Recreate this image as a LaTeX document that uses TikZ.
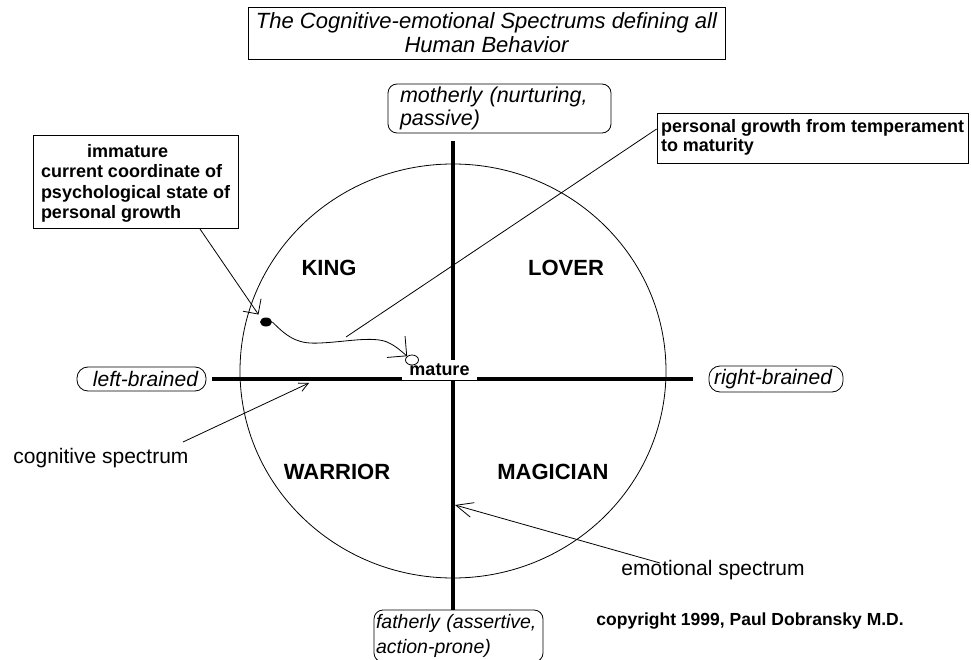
\documentclass[tikz,border=0pt]{standalone}
\usepackage{fontspec}
\setmainfont{Liberation Sans}
\usetikzlibrary{arrows.meta,shapes.geometric}
\begin{document}
\begin{tikzpicture}[x=1pt,y=-1pt,line width=0.8pt,
  box/.style={draw,line width=0.8pt,inner sep=0pt},
  rbox/.style={box,rounded corners=9pt},
  ittxt/.style={font=\fontsize{21}{24}\selectfont\itshape},
  regtxt/.style={font=\fontsize{21}{24}\selectfont},
  bdtxt/.style={font=\fontsize{17.5}{19.5}\selectfont\bfseries},
  quad/.style={font=\fontsize{22}{24}\selectfont\bfseries,inner sep=0pt},
  axis/.style={line width=4pt},
  bigbarb/.style={-{Straight Barb[length=#1,width=2*#1]}},
  smallbarb/.style={-{Straight Barb[length=#1,width=#1]}}
]
\useasboundingbox (0,0) rectangle (971,660);
\fill[white] (0,0) rectangle (971,660);

% title
\node[box,minimum width=477pt,minimum height=52pt,align=center,
  font=\fontsize{22}{24}\selectfont\itshape] (title) at (486.5,33)
  {The Cognitive-emotional Spectrums defining all\\Human Behavior};

% circle
\coordinate (o) at (453,379);
\draw (453,371) ellipse [x radius=213pt, y radius=207pt];

% end boxes
\node[rbox,font=\fontsize{21.5}{23}\selectfont\itshape,minimum width=223pt,minimum height=49pt,text width=199pt,
  inner xsep=12pt,align=left] (mother) at (499.5,108.5)
  {motherly (nurturing,\\passive)};
\node[rbox,font=\fontsize{19.5}{25}\selectfont\itshape,minimum width=169pt,minimum height=52pt,text width=165pt,
  inner xsep=2pt,align=left] (father) at (458.5,636)
  {fatherly (assertive,\\action-prone)};
\node[rbox,ittxt,rounded corners=11pt,minimum width=129pt,minimum height=24pt] (lb) at (141.5,379) {\hspace*{8pt}left-brained};
\node[rbox,ittxt,rounded corners=11pt,minimum width=134pt,minimum height=26pt] (rb) at (776,379) {right-brained\hspace*{6pt}};

% axes
\draw[axis] ([xshift=6pt]lb.east) -- ([xshift=-16pt]rb.west);
\draw[axis] (o |- mother.south) ++(0,8) -- (o |- father.north);

% mature label
\node[fill=white,inner sep=0pt,minimum width=75pt,minimum height=20pt,
  font=\fontsize{18}{20}\selectfont\bfseries] (mature) at (439.5,369.5) {mature};

% quadrant labels
\node[quad] (king) at (329,268) {KING};
\node[quad] (lover) at (566,268) {LOVER};
\node[quad] (warrior) at (337,472) {WARRIOR};
\node[quad] (magician) at (553,472) {MAGICIAN};

% annotation boxes
\node[box,minimum width=311pt,minimum height=50pt] (growth) at (812.5,138) {};
\node[font=\fontsize{18}{19.5}\selectfont\bfseries,align=left,anchor=north west,inner sep=0pt]
  (growthtext) at ([xshift=4pt,yshift=-6pt]growth.north west)
  {personal growth from temperament\\to maturity};
\node[box,minimum width=205pt,minimum height=93pt] (immature) at (135.5,182) {};
\node[font=\fontsize{18}{20.3}\selectfont\bfseries,align=left,anchor=north west,inner sep=0pt]
  (immtext) at ([xshift=8pt,yshift=-9pt]immature.north west)
  {\hspace*{46pt}immature\\current coordinate of\\psychological state of\\personal growth};

% labels
\node[regtxt,anchor=west,inner sep=0pt] (cog) at (13,458) {cognitive spectrum};
\node[regtxt,anchor=west,inner sep=0pt] (emo) at (621,570) {emotional spectrum};
\node[bdtxt,anchor=west,inner sep=0pt] (copy) at (596,621) {copyright 1999, Paul Dobransky M.D.};

% growth path
\node[fill,ellipse,minimum width=12pt,minimum height=9pt,inner sep=0pt] (dot) at (266,322) {};
\node[draw,fill=white,ellipse,minimum width=13pt,minimum height=10pt,inner sep=0pt] (mpt) at (412,360) {};
\draw[bigbarb=14pt] (dot.east) .. controls (290,340) and (300,344) .. (320,343)
  .. controls (345,342) and (372,336) .. (387,342)
  .. controls (396,346) and (401,351) .. (mpt.north west);

% connectors
\coordinate (cogstart) at (183,442);
\coordinate (cogtip) at (309,383);
\draw[smallbarb=9pt] (cogstart) -- (cogtip);
\coordinate (emostart) at (660,563);
\coordinate (emotip) at (455,505);
\draw[-{Straight Barb[length=17pt,width=15pt]}] (emostart) -- (emotip);
\coordinate (immstart) at (200,229);
\draw[bigbarb=11pt] (immstart) -- ([xshift=-3pt,yshift=4pt]dot.north west);
\coordinate (growthpt) at (346,337);
\draw (growthpt) -- (growth.west |- 0,129);
\end{tikzpicture}
\end{document}
